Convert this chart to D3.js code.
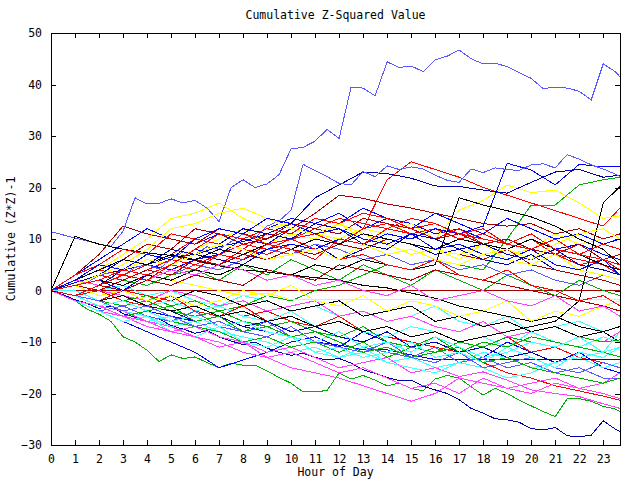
<!DOCTYPE html>
<html><head><meta charset="utf-8">
<script src="https://cdn.jsdelivr.net/npm/d3@7"></script>
<style>
body{margin:0;background:#fff;}
text{font-family:"DejaVu Sans Mono",monospace;font-size:11.5px;fill:#000;}
</style></head>
<body><svg id="c" width="640" height="480"></svg>
<script>
// ---- data ----
const title = "Cumulative Z-Squared Value";
const xTitle = "Hour of Day";
const yTitle = "Cumulative (Z*Z)-1";
const xTicks = d3.range(0, 24);
const yTicks = [-30, -20, -10, 0, 10, 20, 30, 40, 50];
const lastHour = 23.7;

// half-hour sampled traced series (0,0.5,...,23.5, end)
const lb_a = [11.4,10.8,10.2,9.6,9,8.6,11.5,18,16.8,16.9,17.8,17,17.5,16,13.4,20,21.5,20,20.7,22.5,27.5,27.8,29,31.3,29.5,39.5,39.3,37.8,44.4,43.3,43.6,42.5,44.8,45.5,46.7,45,44,44.1,43.5,42.3,41.2,39.2,39.5,39.3,38.7,37,44,42.5,41.5];
const lb_b = [0,1,2,1.5,3,3.5,2.8,4.5,5,4.2,6,7.5,7,8.5,8,9.5,11,10.2,12.5,13.5,15.6,24.5,23.3,22.1,20.8,20.5,23.1,22.1,24.2,23.5,24,23.6,22.4,21.4,21,23.6,22.9,23.8,23.5,23.3,24.4,24.6,23.8,26.4,25.5,24.4,23.6,22.6,22.1];
const n_a = [0,-0.8,-1.8,-2.5,-3.5,-3,-4.5,-5.2,-6,-5.5,-6.8,-7.5,-8.3,-7.8,-9,-9.8,-10.5,-10,-11.2,-12,-12.6,-12.2,-13,-13.5,-13.2,-14.1,-15.4,-16.1,-16.9,-17.5,-17.4,-18.6,-19.3,-20,-21.2,-22.9,-23.8,-24.9,-25.1,-25.6,-26.8,-27.1,-26.6,-28.2,-28.4,-28.1,-25.3,-26.9,-27.4];
const g_a = [0,-0.8,-2,-3.6,-4.6,-6,-9,-10,-11.6,-13.8,-12.5,-13.2,-12.9,-14,-15,-14.1,-14.5,-14.5,-15.6,-16.9,-18,-19.7,-19.7,-19.4,-16,-17.2,-16.5,-17.4,-18.5,-18,-19,-19.5,-17.2,-16.5,-17,-18.7,-20.3,-19,-20,-21.3,-22.4,-23.5,-24.5,-21,-21,-21.5,-22.5,-23,-23.5];

// hourly sampled series (0..23, end)
const r_a = [0,2,1,3,5,4,6,5,8,7,9,8,10,12,21.5,25,23.5,22,20,18.5,17,15.5,14,12.5,16];
const r_b = [0,-1,-2,0,-1,-2,-4,-3,-5,-4,-6,-7,-5,-8,-9,-10,-11,-12,-14,-16,-17,-18.5,-19.5,-20.5,-21.3];
const r_c = [0,1,3,2,4,6,5,7,9,8,10,11,9,12,13,11,12,10,11,9,8,7,5,6,4];
const r_d = [0,-1,0,-2,-3,-1,-4,-5,-3,-6,-5,-7,-6,-8,-7,-9,-8,-10,-11,-9,-12,-11,-13,-14,-15];
const r_e = [0,2,4,3,5,7,10,9,8,11,10,12,14,13,12,11,10,12,9,8,10,7,6,5,3];
const r_f = [0,3,5,8,7,11,10,12,11,9,10,8,6,7,5,4,6,3,2,4,1,0,-2,-1,-3];
const r_g = [0,1,2,4,3,5,8,11,10,12,11,14,13,15,14,12,13,11,10,9,11,8,7,6,5];
const r_h = [0,-1,1,3,2,5,4,7,6,9,8,6,10,9,12,14,13,11,12,9,8,10,7,9,8];
const dr_a = [0,0,0,0,0,0,0,0,0,0,0,0,0,0,0,0,0,0,0,0,0,0,0,0,0];
const dr_b = [0,3,7,12.5,11,10,9,12,11,10,12,15,18.5,17.9,16.8,16,15,14,13,12.5,13,11,12,10,11];
const dr_c = [0,1,0,2,4,3,6,5,7,6,8,7,9,8,10,9,8,7,6,8,5,4,3,2,1];
const dr_d = [0,-1,1,0,2,1,3,2,1,4,3,2,5,4,3,2,4,3,2,1,0,-1,-2,-3,-4];
const dr_e = [0,2,4,6,9,8,12,11,9,10,13,12,11,14,13,12,10,11,9,10,8,7,9,6,7];
const g_b = [0,-1,0,-2,-1,-3,-2,-4,-3,-1,-2,0,1,3,5,4,6,5,4,10,16.6,16.6,20.5,21.5,22];
const g_c = [0,-1,-2,-3,-2,-4,-5,-4,-6,-7,-6,-8,-9,-7,-10,-11,-9,-12,-10,-11,-9,-10,-11,-12,-12.9];
const g_d = [0,1,0,2,1,3,4,2,5,3,6,4,2,5,3,1,4,2,0,3,1,-1,2,0,-1];
const g_e = [0,-2,-3,-5,-4,-6,-7,-8,-10,-9,-11,-10,-12,-10,-13,-11,-12,-10,-11,-9,-10,-11,-9,-10,-9.6];
const g_f = [0,-1,-3,-2,-4,-3,-6,-5,-8,-7,-9,-8,-10,-12,-11,-13,-12,-11,-14,-13,-15,-16,-17,-18,-17];
const b_a = [0,2,1,3,5,4,6,7,6,8,9,8,10,9,11,10,12,11,12.5,24.7,23.4,20.5,24.5,24,24];
const b_b = [0,-2,-4,-6,-8,-10,-12,-15,-13.5,-12,-10,-9,-11,-8,-10,-12,-9,-11,-13,-10,-12,-14,-12,-15,-16];
const b_c = [0,-1,-3,-2,-4,-5,-6,-5,-7,-8,-9,-10,-10.6,-11.5,-11.5,-12.5,-13.4,-13.4,-13.4,-13.4,-13.4,-13.4,-13.4,-13.4,-13.4];
const b_d = [0,3,6,9,12,10,9,11,10,12,14,13,15,12,14,13,11,12,10,9,11,8,9,7,6];
const b_e = [0,1,2,0,3,5,8,7,10,9,12,11,13,16,14,12,15,13,11,14,12,10,11,9,10];
const b_f = [0,2,5,4,7,6,10,12,11,14,13,11,12,10,9,11,8,9,7,6,8,5,4,6,3];
const n_b = [0,1.5,3,4,5,6.5,7,8.5,9.5,11,13,18,20.5,23,22.7,21.8,20.3,20.2,19.5,18.9,21,23,23.5,22,22.4];
const n_c = [0,-1,-2,-1,-3,-4,-6,-5,-7,-6,-8,-7,-9,-10,-8,-11,-10,-12,-11,-13,-12,-14,-13,-12,-11];
const n_d = [0,2,1,4,3,5,7,6,5,8,7,9,6,8,10,9,7,8,6,5,7,4,3,2,1];
const n_e = [0,1,3,6,5,8,7,9,12,11,10,13,12,9,8,11,10,8,9,7,6,8,5,4,3];
const lb_c = [0,-2,-4,-3,-5,-6,-4,-7,-8,-6,-9,-10,-8,-11,-12,-13,-11,-14,-13,-15,-14,-16,-15,-17,-17];
const lb_d = [0,1,3,2,4,3,5,4,6,8,7,9,8,6,7,5,6,4,5,3,4,2,1,3,2];
const lb_e = [0,-1,-2,-4,-3,-5,-7,-6,-8,-9,-7,-10,-11,-12,-10,-13,-14,-12,-15,-14,-13,-15,-16,-14,-15];
const y_a = [0,1,2,1,3,2,1,0,-1,-0.5,-1.8,-1.8,-1.8,-1.8,-1.8,-1.8,-1.8,-1.8,-1.8,-1.8,-1.8,-1.8,-1.8,-1.8,-1.8];
const y_b = [0,2,4,7,10,14,15,17,14,12,13,11,10,12,11,13,10,15.6,17.5,20.5,19,19.5,17,14,14.5];
const y_c = [0,-1,0,2,4,6,8,10,12,9,11,10,13,11,9,7,8,6,9,7,8,11,9,10,11];
const y_d = [0,1,-1,0,-2,-1,-3,-2,0,-1,1,-2,-3,-1,-4,-2,-3,-5,-4,-2,-6,-4,-5,-3,-2];
const y_e = [0,1,3,5,8,12,13,15,16,14,12,11,13,10,9,11,8,7,9,6,5,7,4,3,2];
const y_f = [0,1,2,4,6,5,7,9,8,6,7,8,6,9,7,8,6,5,7,8,6,9,11,12,10];
const c_a = [0,-2,-3,-4,-6,-5,-7,-8,-9,-10,-12,-11,-13,-12,-14,-13,-15,-14,-12,-13,-15,-14,-13,-15,-14];
const c_b = [0,-1,-2,-1,-3,-2,-4,-3,-5,-6,-4,-7,-6,-8,-9,-7,-8,-10,-9,-11,-8,-10,-11,-9,-10];
const c_c = [0,-1,0,1,-1,0,-2,-3,-1,-2,-4,-3,-5,-4,-6,-5,-3,-6,-7,-5,-8,-7,-6,-8,-7];
const c_d = [0,0,-2,-4,-5,-7,-6,-8,-10,-11,-9,-12,-13,-11,-14,-15,-16,-14,-15,-17,-16,-14,-13,-12,-11];
const c_e = [0,-2,-4,-6,-5,-8,-9,-7,-10,-11,-9,-12,-11,-13,-12,-10,-13,-12,-14,-11,-13,-15,-12,-13,-11];
const c_f = [0,-1,-3,-2,-4,-6,-5,-7,-6,-8,-9,-10,-8,-11,-10,-12,-9,-11,-13,-12,-10,-11,-9,-12,-8];
const m_a = [0,-2,-4,-5,-7,-8,-7,-9,-10,-12,-11,-13,-15,-14,-13,-16,-15,-16.7,-15.8,-17.4,-19.3,-20,-20.6,-22,-22.9];
const m_b = [0,-1,-3,-4,-6,-7,-9,-10,-12,-13,-15,-16,-17,-18.5,-20,-21.5,-20,-17,-18,-19,-20,-18,-19,-20,-21];
const m_c = [0,1,0,-1,-2,0,-1,-3,-2,-4,-3,-2,-5,-4,-6,-5,-7,-8,-6,-9,-8,-7,-9,-10,-8];
const m_d = [0,2,1,3,2,4,3,5,4,2,3,1,2,0,-1,1,-2,-1,0,-2,-3,-1,-4,-3,-5];
const m_e = [0,-2,-3,-5,-6,-8,-9,-11,-10,-13,-12,-14,-16,-15,-17,-19,-18,-20,-17,-19,-18,-17,-19,-18,-16];
const k_a = [0,10.5,9,8,7.3,6.8,5.8,4.8,4,3.6,3,2.5,2,1,0.5,-0.5,-1.5,-3,-4,-5,-6,-5,-7,-8,-7];
const k_b = [0,1,2,1,3,2,4,3,5,4,3,5,4,6,5,4,5,18,16.6,15.5,14.3,12.5,10,8,5];
const k_c = [0,-1,-2,-1,-3,-4,-3,-5,-4,-6,-5,-7,-6,-8,-7,-9,-8,-10,-9,-8,-7,-6,-2,17,20.2];
const k_d = [0,-1,1,0,-1,-2,0,-1,-3,-2,-4,-3,-2,-5,-4,-3,-6,-5,-7,-6,-8,-7,-9,-8,-10];
const k_e = [0,2,4,6,5,7,6,8,7,9,8,10,9,11,10,9,8,10,9,8,10,8,7,5,4];

// ---- styles ----
const colors = {red:"#ff0000", darkred:"#a80000", green:"#00b000", blue:"#0000ff", navy:"#0000a8",
  lightblue:"#5858ff", yellow:"#ffff00", cyan:"#40ffff", magenta:"#ff40ff", black:"#000000"};

const series = [
  [r_a,"red",1],[dr_a,"darkred",1],[g_d,"green",1],[b_d,"blue",1],[n_d,"navy",1],[lb_d,"lightblue",1],[y_c,"yellow",1],[c_c,"cyan",1],[m_c,"magenta",1],[k_d,"black",1],
  [r_b,"red",1],[dr_b,"darkred",1],[g_a,"green",0.5],[b_b,"blue",1],[n_a,"navy",0.5],[lb_a,"lightblue",0.5],[y_b,"yellow",1],[c_a,"cyan",1],[m_a,"magenta",1],[k_a,"black",1],
  [r_c,"red",1],[dr_c,"darkred",1],[g_b,"green",1],[b_a,"blue",1],[n_b,"navy",1],[lb_b,"lightblue",0.5],[y_a,"yellow",1],[c_b,"cyan",1],[m_b,"magenta",1],[k_b,"black",1],
  [r_d,"red",1],[dr_d,"darkred",1],[g_c,"green",1],[b_c,"blue",1],[n_c,"navy",1],[lb_c,"lightblue",1],[y_d,"yellow",1],[c_d,"cyan",1],[m_d,"magenta",1],[k_c,"black",1],
  [r_e,"red",1],[dr_e,"darkred",1],[g_e,"green",1],[b_e,"blue",1],[n_e,"navy",1],[lb_e,"lightblue",1],[y_e,"yellow",1],[c_e,"cyan",1],[m_e,"magenta",1],[k_e,"black",1],
  [r_f,"red",1],[g_f,"green",1],[b_f,"blue",1],[y_f,"yellow",1],[c_f,"cyan",1],[r_g,"red",1],[r_h,"red",1]
];

// ---- drawing ----
const svg = d3.select("#c");
const L = 51, R = 620, T = 33, B = 445;
const x = d3.scaleLinear().domain([0, lastHour]).range([L, R]);
const y = d3.scaleLinear().domain([-30, 50]).range([B, T]);

svg.append("rect").attr("width",640).attr("height",480).attr("fill","#fff");

const line = d3.line().x(d => x(d[0])).y(d => y(d[1]));
const g = svg.append("g");
series.forEach(([vals, col, step]) => {
  const pts = vals.map((v, i) => [i === vals.length - 1 ? lastHour : i * step, v]);
  g.append("path").attr("d", line(pts)).attr("fill","none")
    .attr("stroke", colors[col]).attr("stroke-width",1).attr("shape-rendering","crispEdges");
});

function styleAxis(sel){
  sel.select(".domain").remove();
  sel.selectAll(".tick line").attr("stroke","#000").attr("shape-rendering","crispEdges");
  sel.selectAll("text").style("font-family",'"DejaVu Sans Mono",monospace').style("font-size","11.5px").attr("fill","#000");
}
svg.append("g").attr("transform",`translate(0,${B})`)
  .call(d3.axisBottom(x).tickValues(xTicks).tickFormat(d3.format("d")).tickSizeInner(-5).tickSizeOuter(0).tickPadding(10))
  .call(styleAxis);
svg.append("g").attr("transform",`translate(0,${T})`)
  .call(d3.axisTop(x).tickValues(xTicks).tickFormat("").tickSizeInner(-5).tickSizeOuter(0))
  .call(styleAxis);
svg.append("g").attr("transform",`translate(${L},0)`)
  .call(d3.axisLeft(y).tickValues(yTicks).tickFormat(d3.format("d")).tickSizeInner(-5).tickSizeOuter(0).tickPadding(9))
  .call(styleAxis);
svg.append("g").attr("transform",`translate(${R},0)`)
  .call(d3.axisRight(y).tickValues(yTicks).tickFormat("").tickSizeInner(-5).tickSizeOuter(0))
  .call(styleAxis);

svg.append("rect").attr("x",L+0.5).attr("y",T+0.5).attr("width",R-L).attr("height",B-T)
  .attr("fill","none").attr("stroke","#000").attr("stroke-width",1);

svg.append("text").attr("x",(L+R)/2).attr("y",19).attr("text-anchor","middle").text(title);
svg.append("text").attr("x",(L+R)/2).attr("y",476).attr("text-anchor","middle").text(xTitle);
svg.append("text").attr("transform",`translate(15,${(T+B)/2}) rotate(-90)`).attr("text-anchor","middle").text(yTitle);
</script></body></html>
